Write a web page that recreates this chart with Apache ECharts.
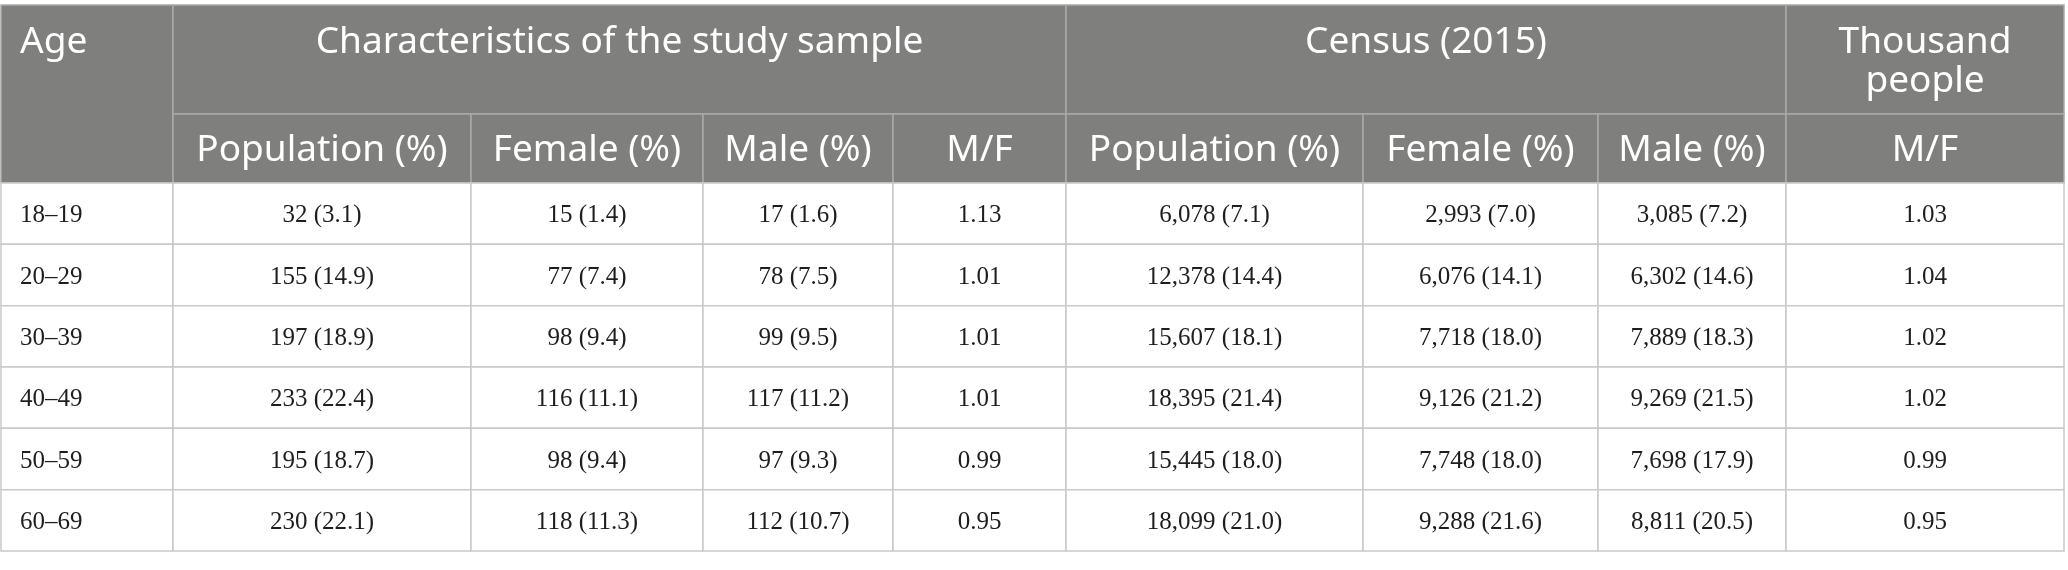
<!DOCTYPE html>
<html>
<head>
<meta charset="utf-8">
<script src="https://cdn.jsdelivr.net/npm/echarts@6/dist/echarts.min.js"></script>
<style>
  html, body { margin: 0; padding: 0; background: #ffffff; }
  #chart { width: 2068px; height: 570px; }
</style>
</head>
<body>
<div id="chart"></div>
<script>
// ---------------- data ----------------
const ageGroups = ['18–19', '20–29', '30–39', '40–49', '50–59', '60–69'];

const samplePopulation     = [32, 155, 197, 233, 195, 230];
const samplePopulationPct  = [3.1, 14.9, 18.9, 22.4, 18.7, 22.1];
const sampleFemale         = [15, 77, 98, 116, 98, 118];
const sampleFemalePct      = [1.4, 7.4, 9.4, 11.1, 9.4, 11.3];
const sampleMale           = [17, 78, 99, 117, 97, 112];
const sampleMalePct        = [1.6, 7.5, 9.5, 11.2, 9.3, 10.7];
const sampleRatio          = [1.13, 1.01, 1.01, 1.01, 0.99, 0.95];

const censusPopulation     = [6078, 12378, 15607, 18395, 15445, 18099];
const censusPopulationPct  = [7.1, 14.4, 18.1, 21.4, 18.0, 21.0];
const censusFemale         = [2993, 6076, 7718, 9126, 7748, 9288];
const censusFemalePct      = [7.0, 14.1, 18.0, 21.2, 18.0, 21.6];
const censusMale           = [3085, 6302, 7889, 9269, 7698, 8811];
const censusMalePct        = [7.2, 14.6, 18.3, 21.5, 17.9, 20.5];
const censusRatio          = [1.03, 1.04, 1.02, 1.02, 0.99, 0.95];

const groupHeaders  = ['Age', 'Characteristics of the study sample', 'Census (2015)', 'Thousand\npeople'];
const columnHeaders = ['Population (%)', 'Female (%)', 'Male (%)', 'M/F',
                       'Population (%)', 'Female (%)', 'Male (%)', 'M/F'];

// ---------------- layout (sizes only) ----------------
const colWidths  = [172, 298, 232, 190, 173, 297, 235, 188, 278];
const rowHeights = [109, 69, 61.33, 61.33, 61.33, 61.33, 61.33, 61.35];
const groupSpans = [[0, 1, 0, 2], [1, 5, 0, 1], [5, 8, 0, 1], [8, 9, 0, 1]]; // colStart, colEnd, rowStart, rowEnd

const colEdges = [0]; colWidths.forEach(w => colEdges.push(colEdges[colEdges.length - 1] + w));
const rowEdges = [0]; rowHeights.forEach(h => rowEdges.push(rowEdges[rowEdges.length - 1] + h));

const fmtCount = (n, p) => n.toLocaleString('en-US') + ' (' + p.toFixed(1) + ')';
const fmtRatio = r => r.toFixed(2);

// ---------------- cells ----------------
const cells = [];
function addCell(c0, c1, r0, r1, text, kind, align) {
  cells.push({ value: [colEdges[c0], rowEdges[r0], colEdges[c1], rowEdges[r1], cells.length], text, kind, align });
}
groupHeaders.forEach((t, i) => {
  const s = groupSpans[i];
  addCell(s[0], s[1], s[2], s[3], t, 'group', i === 0 ? 'left' : 'center');
});
columnHeaders.forEach((t, i) => addCell(i + 1, i + 2, 1, 2, t, 'head', 'center'));
const bodyColumns = [
  ageGroups,
  samplePopulation.map((v, i) => fmtCount(v, samplePopulationPct[i])),
  sampleFemale.map((v, i) => fmtCount(v, sampleFemalePct[i])),
  sampleMale.map((v, i) => fmtCount(v, sampleMalePct[i])),
  sampleRatio.map(fmtRatio),
  censusPopulation.map((v, i) => fmtCount(v, censusPopulationPct[i])),
  censusFemale.map((v, i) => fmtCount(v, censusFemalePct[i])),
  censusMale.map((v, i) => fmtCount(v, censusMalePct[i])),
  censusRatio.map(fmtRatio)
];
ageGroups.forEach((_, r) => {
  bodyColumns.forEach((col, c) => addCell(c, c + 1, r + 2, r + 3, col[r], 'body', c === 0 ? 'left' : 'center'));
});

// ---------------- chart ----------------
const chart = echarts.init(document.getElementById('chart'), null, { renderer: 'canvas' });

function renderCell(params, api) {
  const cell = cells[api.value(4)];
  const p0 = api.coord([api.value(0), api.value(1)]);
  const p1 = api.coord([api.value(2), api.value(3)]);
  const x = p0[0], y = p0[1], w = p1[0] - p0[0], h = p1[1] - p0[1];
  const isHeader = cell.kind !== 'body';
  const children = [{
    type: 'rect',
    shape: { x: x, y: y, width: w, height: h },
    style: { fill: isHeader ? '#7f807e' : '#ffffff', stroke: isHeader ? '#a9aaa8' : '#c9c9c9', lineWidth: 1.5 }
  }];
  let tx = cell.align === 'left' ? x + 19 : x + w / 2;
  let ty, vAlign;
  if (cell.kind === 'group') { ty = y + 18; vAlign = 'top'; }
  else if (cell.kind === 'head') { ty = y + h / 2 + 2; vAlign = 'middle'; }
  else { ty = y + h / 2 + 2; vAlign = 'middle'; }
  children.push({
    type: 'text',
    style: {
      x: tx, y: ty,
      text: cell.text,
      fill: isHeader ? '#ffffff' : '#1e1e1e',
      fontFamily: isHeader ? 'Noto Sans' : 'Liberation Serif',
      fontSize: isHeader ? 37 : 25,
      lineHeight: 39,
      align: cell.align,
      verticalAlign: vAlign
    }
  });
  return { type: 'group', children: children };
}

chart.setOption({
  animation: false,
  backgroundColor: '#ffffff',
  grid: { left: 1, top: 5, width: colEdges[colEdges.length - 1], height: rowEdges[rowEdges.length - 1] },
  xAxis: { type: 'value', min: 0, max: colEdges[colEdges.length - 1], show: false },
  yAxis: { type: 'value', min: 0, max: rowEdges[rowEdges.length - 1], inverse: true, show: false },
  series: [{
    type: 'custom',
    clip: false,
    encode: { x: [0, 2], y: [1, 3] },
    renderItem: renderCell,
    data: cells.map(c => c.value)
  }]
});
</script>
</body>
</html>
